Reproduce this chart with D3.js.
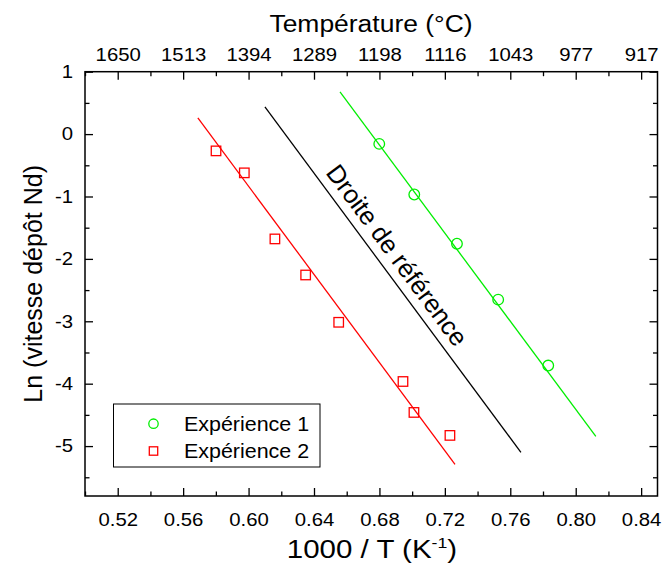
<!DOCTYPE html>
<html><head><meta charset="utf-8">
<script src="https://cdn.jsdelivr.net/npm/d3@7"></script>
<style>
body{margin:0;background:#fff;}
svg{display:block;font-family:"Liberation Sans",Arial,sans-serif;}
</style></head>
<body>
<svg id="chart" width="662" height="564"></svg>
<script>
// ---- data ----
const exp1X = [0.6799, 0.7013, 0.7274, 0.7526, 0.7832];
const exp1Y = [-0.157, -0.968, -1.757, -2.653, -3.709];
const exp2X = [0.5801, 0.5974, 0.6161, 0.6349, 0.6551, 0.6944, 0.7011, 0.7231];
const exp2Y = [-0.269, -0.621, -1.680, -2.258, -3.016, -3.965, -4.461, -4.829];
const fit1 = [[0.6559, 0.675], [0.8123, -4.845]];
const fit2 = [[0.5690, 0.259], [0.7262, -5.293]];
const refLine = [[0.6100, 0.435], [0.7665, -5.100]];
const xTicks = [0.52, 0.56, 0.60, 0.64, 0.68, 0.72, 0.76, 0.80, 0.84];
const xMinor = [0.50, 0.54, 0.58, 0.62, 0.66, 0.70, 0.74, 0.78, 0.82];
const tempLabels = ["1650", "1513", "1394", "1289", "1198", "1116", "1043", "977", "917"];
const yTicks = [-5, -4, -3, -2, -1, 0, 1];
const yMinor = [-5.5, -4.5, -3.5, -2.5, -1.5, -0.5, 0.5];
const seriesNames = ["Expérience 1", "Expérience 2"];
const refLabel = "Droite de référence";

// ---- layout ----
const L = 85, R = 657.5, T = 71.7, B = 496;
const SX = 1.13; // horizontal glyph stretch
const svg = d3.select("#chart");
const x = d3.scaleLinear().domain([0.5, 0.85]).range([L, R]);
const y = d3.scaleLinear().domain([-5.8, 1]).range([B, T]);
const green = "#00ee00", red = "#ff0000";

// frame
svg.append("rect").attr("x", L).attr("y", T).attr("width", R - L).attr("height", B - T)
  .attr("fill", "none").attr("stroke", "#000").attr("stroke-width", 1.5);

function axis(gen, scale, ticks, len, tx, ty, labels, fmt, pad) {
  const g = svg.append("g").attr("transform", `translate(${tx},${ty})`)
    .call(gen(scale).tickValues(ticks).tickSizeInner(-len).tickSizeOuter(0).tickPadding(len + (pad || 6))
      .tickFormat(labels ? fmt : () => ""));
  g.select(".domain").remove();
  g.selectAll(".tick line").attr("stroke", "#000").attr("stroke-width", 1.3);
  g.selectAll("text").attr("font-size", 18).attr("fill", "#000")
    .attr("font-family", "'Liberation Sans',Arial,sans-serif")
    .each(function () {
      const el = d3.select(this);
      const xv = +el.attr("x") || 0;
      el.attr("x", xv / SX).attr("transform", `scale(${SX},1)`);
    });
  return g;
}
const fx = d3.format(".2f");
axis(d3.axisBottom, x, xTicks, 8, 0, B, true, d => fx(d), 9);
axis(d3.axisBottom, x, xMinor, 4.5, 0, B, false);
axis(d3.axisTop, x, xTicks, 8, 0, T, true, (d, i) => tempLabels[i], 3);
axis(d3.axisTop, x, xMinor, 4.5, 0, T, false);
axis(d3.axisLeft, y, yTicks, 8, L, 0, true, d => d3.format("d")(d).replace("−", "-"), 4);
axis(d3.axisLeft, y, yMinor, 4.5, L, 0, false);
axis(d3.axisRight, y, yTicks, 8, R, 0, false);
axis(d3.axisRight, y, yMinor, 4.5, R, 0, false);

// titles
function stretched(cx, cy, size, sx) {
  return svg.append("text").attr("x", cx / sx).attr("y", cy).attr("transform", `scale(${sx},1)`)
    .attr("text-anchor", "middle").attr("font-size", size);
}
stretched(371, 32, 24.5, 1.08).text("Température (°C)");
const bt = stretched(372, 558, 25, 1.18);
bt.append("tspan").text("1000 / T (K");
bt.append("tspan").attr("font-size", 15).attr("dy", -10).text("-1");
bt.append("tspan").attr("dy", 10).text(")");
svg.append("text").attr("transform", `translate(42,${(T + B) / 2}) rotate(-90)`)
  .attr("text-anchor", "middle").attr("font-size", 25).text("Ln (vitesse dépôt Nd)");

// lines
const line = d3.line().x(d => x(d[0])).y(d => y(d[1]));
svg.append("path").datum(fit2).attr("d", line).attr("stroke", red).attr("stroke-width", 1.3).attr("fill", "none");
svg.append("path").datum(refLine).attr("d", line).attr("stroke", "#000").attr("stroke-width", 1.3).attr("fill", "none");
svg.append("path").datum(fit1).attr("d", line).attr("stroke", green).attr("stroke-width", 1.3).attr("fill", "none");

// markers
svg.selectAll(".c1").data(exp1X).enter().append("circle")
  .attr("cx", d => x(d)).attr("cy", (d, i) => y(exp1Y[i])).attr("r", 5.3)
  .attr("fill", "none").attr("stroke", green).attr("stroke-width", 1.3);
const s = 9.5;
svg.selectAll(".s2").data(exp2X).enter().append("rect")
  .attr("x", d => x(d) - s / 2).attr("y", (d, i) => y(exp2Y[i]) - s / 2)
  .attr("width", s).attr("height", s)
  .attr("fill", "none").attr("stroke", red).attr("stroke-width", 1.3);

// reference label
const p0 = [x(refLine[0][0]), y(refLine[0][1])], p1 = [x(refLine[1][0]), y(refLine[1][1])];
const ang = Math.atan2(p1[1] - p0[1], p1[0] - p0[0]) * 180 / Math.PI;
const t = 0.46;
const mx = p0[0] + (p1[0] - p0[0]) * t, my = p0[1] + (p1[1] - p0[1]) * t;
const rad = ang * Math.PI / 180, off = 9;
svg.append("text")
  .attr("transform", `translate(${mx + Math.sin(rad) * off},${my - Math.cos(rad) * off}) rotate(${ang})`)
  .attr("text-anchor", "middle").attr("font-size", 25.5).text(refLabel);

// legend
svg.append("rect").attr("x", 113.5).attr("y", 404).attr("width", 206.5).attr("height", 63)
  .attr("fill", "#fff").attr("stroke", "#000").attr("stroke-width", 1);
svg.append("circle").attr("cx", 153.5).attr("cy", 423.7).attr("r", 4.7)
  .attr("fill", "none").attr("stroke", green).attr("stroke-width", 1.3);
svg.append("rect").attr("x", 153.5 - 4.2).attr("y", 451 - 4.2).attr("width", 8.4).attr("height", 8.4)
  .attr("fill", "none").attr("stroke", red).attr("stroke-width", 1.3);
seriesNames.forEach((n, i) => {
  stretched(0, [423.7, 451][i] + 7, 19.5, 1.1).attr("x", 184 / 1.1).attr("text-anchor", "start").text(n);
});
</script>
</body></html>
